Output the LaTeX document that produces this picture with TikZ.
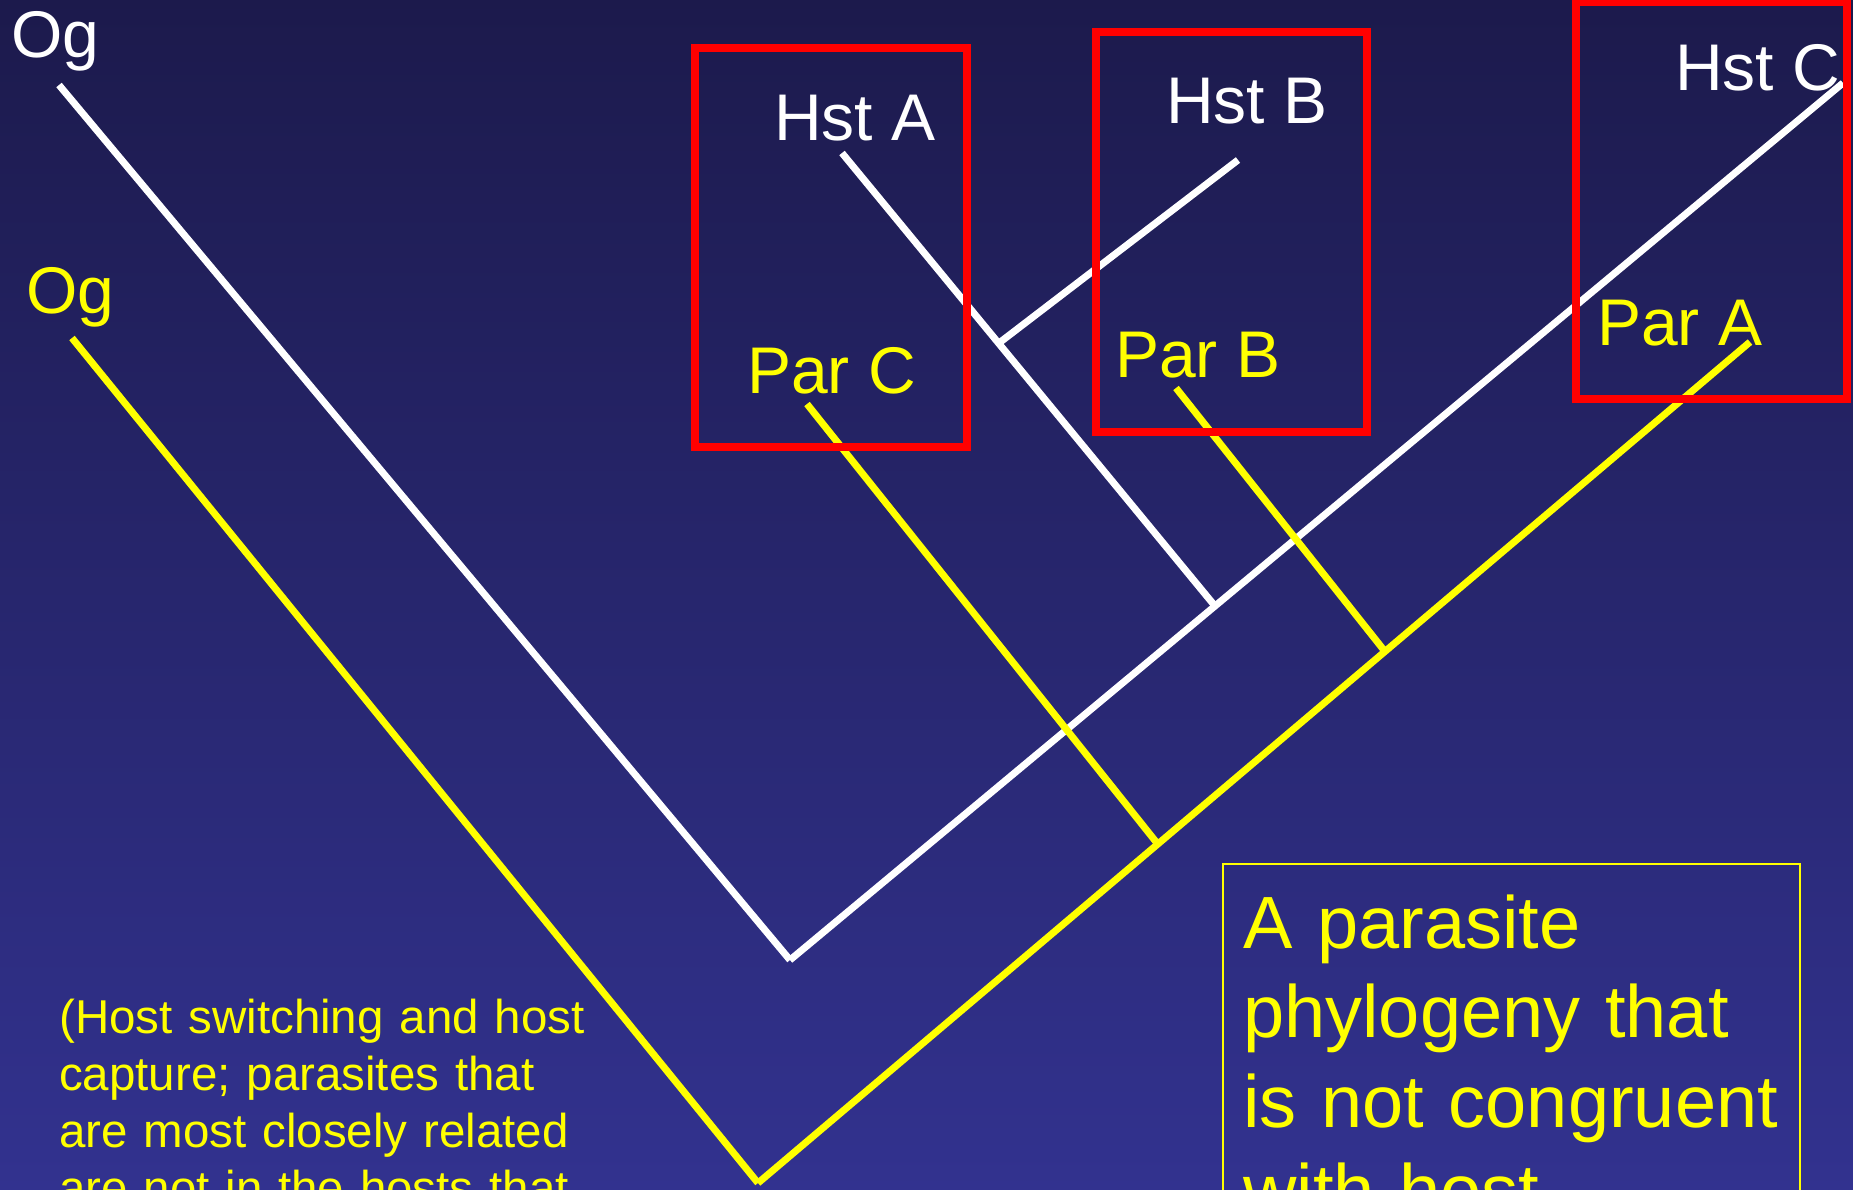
\documentclass[tikz,border=0pt]{standalone}
\usepackage{fontspec}
\setmainfont{Liberation Sans}
\usetikzlibrary{calc}
\definecolor{bgtop}{RGB}{28,26,76}
\definecolor{bgbot}{RGB}{50,50,143}
\definecolor{hostc}{RGB}{255,255,255}
\definecolor{parc}{RGB}{255,255,0}
\definecolor{boxred}{RGB}{255,0,0}
\tikzset{
  hostline/.style={draw=hostc, line width=7pt},
  parline/.style={draw=parc, line width=7pt},
  redbox/.style={draw=boxred, line width=8pt},
  hostlbl/.style={text=hostc, anchor=base west, inner sep=0pt, font=\fontsize{66}{70}\selectfont},
  parlbl/.style={text=parc, anchor=base west, inner sep=0pt, font=\fontsize{66}{70}\selectfont},
  notetext/.style={text=parc, anchor=base west, inner sep=0pt, align=left},
}
\begin{document}
\begin{tikzpicture}[x=1pt,y=-1pt]
\useasboundingbox (0,0) rectangle (1853,1189);
\clip (0,0) rectangle (1853,1189);
\shade[top color=bgtop, bottom color=bgbot] (0,0) rectangle (1853,1189);

% host tree coordinates
\coordinate (ogW) at (59,85);
\coordinate (vW) at (790,960);
\coordinate (hC) at (1843,83);
\coordinate (hA) at (842,153);
\coordinate (hB) at (1238,160);
\coordinate (jA) at ($(vW)!0.4036!(hC)$);
\coordinate (jB) at ($(hA)!0.42!(jA)$);

% parasite tree coordinates
\coordinate (ogY) at (72,338);
\coordinate (vY) at (758,1183);
\coordinate (pA) at (1750,342);
\coordinate (pC) at (807,404);
\coordinate (pB) at (1176,388);
\coordinate (jC) at ($(vY)!0.403!(pA)$);
\coordinate (jP) at ($(vY)!0.632!(pA)$);

% host tree
\draw[hostline] (ogW) -- (vW);
\draw[hostline] (vW) -- (hC);
\draw[hostline] (hA) -- (jA);
\draw[hostline] (hB) -- (jB);

% parasite tree
\draw[parline] (ogY) -- (vY);
\draw[parline] (vY) -- (pA);
\draw[parline] (pC) -- (jC);
\draw[parline] (pB) -- (jP);

% red boxes
\draw[redbox] (695,48) rectangle (967,447);
\draw[redbox] (1096,32) rectangle (1367,432);
\draw[redbox] (1576,2) rectangle (1847,399);

% labels
\node[hostlbl] (lOgW) at (11,57) {Og};
\node[parlbl] (lOgY) at (26,313) {Og};
\node[hostlbl] (lHA) at (774,140) {Hst A};
\node[hostlbl] (lHB) at (1166,123) {Hst B};
\node[hostlbl] (lHC) at (1675,90) {Hst C};
\node[parlbl] (lPC) at (747,393) {Par C};
\node[parlbl] (lPB) at (1115,377) {Par B};
\node[parlbl] (lPA) at (1597,345) {Par A};

% notes
\node[notetext, text width=640pt, font=\fontsize{47.5}{57}\selectfont] (note) at (59,1033)
  {(Host switching and host\\capture; parasites that\\are most closely related\\are not in the hosts that};
\draw[draw=parc, line width=2pt] (1223,864) rectangle (1800,1260);
\node[notetext, text width=560pt, font=\fontsize{74}{89.5}\selectfont] (claim) at (1243,948)
  {A parasite\\phylogeny that\\is not congruent\\with host};
\end{tikzpicture}
\end{document}
